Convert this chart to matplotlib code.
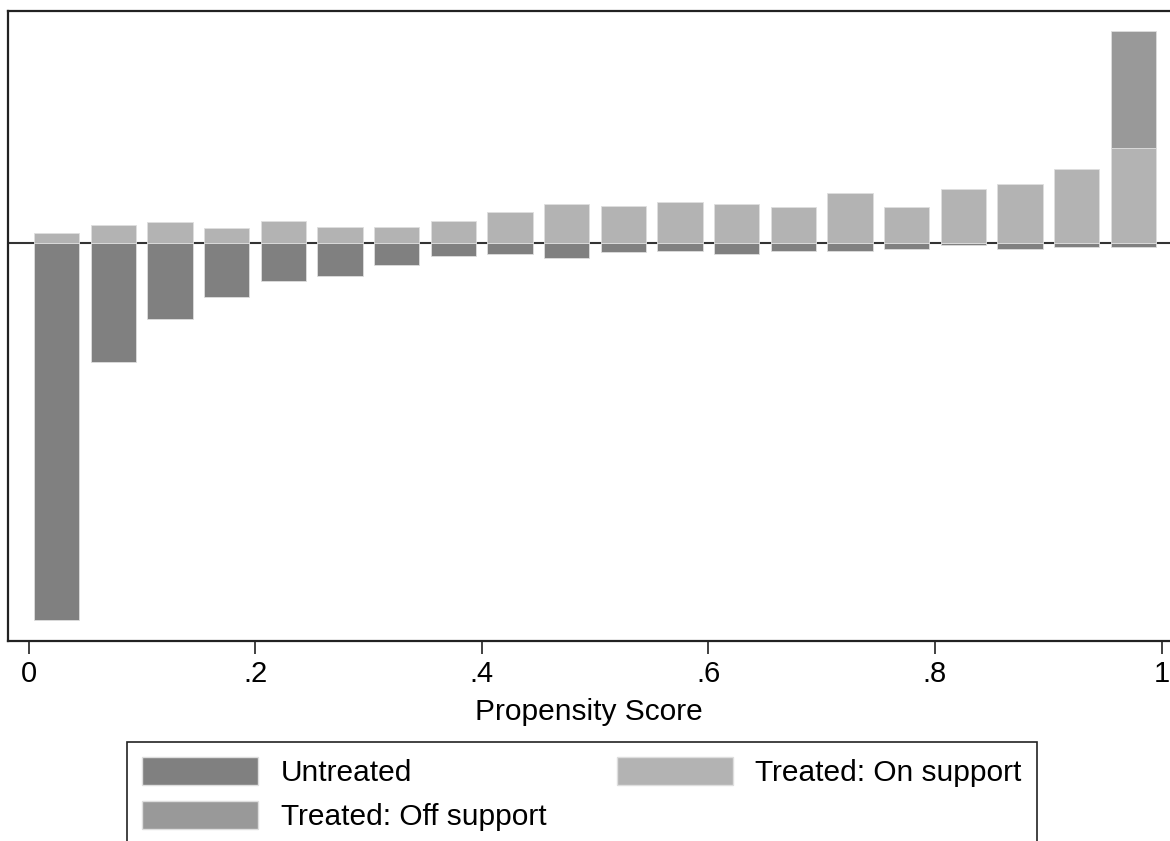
import numpy as np
import matplotlib
matplotlib.use("Agg")
import matplotlib.pyplot as plt
from matplotlib.patches import Patch

plt.rcParams['font.family'] = ['Liberation Sans', 'DejaVu Sans']

# propensity score bins (centres), 20 bins of width .05
bin_centers = [0.025, 0.075, 0.125, 0.175, 0.225, 0.275, 0.325, 0.375, 0.425, 0.475,
               0.525, 0.575, 0.625, 0.675, 0.725, 0.775, 0.825, 0.875, 0.925, 0.975]

# frequencies (arbitrary units)
untreated = [377, 119, 76, 54, 38, 33, 22, 13, 11, 15,
             9, 8, 11, 8, 8, 6, 2, 6, 4, 4]
treated_on = [10, 18, 21, 15, 22, 16, 16, 22, 31, 39,
              37, 41, 39, 36, 50, 36, 54, 59, 74, 95]
treated_off = [0, 0, 0, 0, 0, 0, 0, 0, 0, 0,
               0, 0, 0, 0, 0, 0, 0, 0, 0, 117]

tick_vals = [0, 0.2, 0.4, 0.6, 0.8, 1.0]
tick_labels = ['0', '.2', '.4', '.6', '.8', '1']

c_untr = '#808080'
c_on = '#b3b3b3'
c_off = '#999999'
edge = '#dedede'

fig = plt.figure(figsize=(11.7, 8.41), dpi=100)
ax = fig.add_axes([8 / 1170, 1 - 641 / 841, 1 - 8 / 1170, (641 - 11) / 841])

x = np.array(bin_centers)
w = 0.04
ax.axhline(0, color='#333333', lw=1.5, zorder=1)
ax.bar(x, -np.array(untreated), width=w, color=c_untr, edgecolor=edge, lw=0.6, zorder=2)
ax.bar(x, treated_on, width=w, color=c_on, edgecolor=edge, lw=0.6, zorder=2)
off = np.array(treated_off)
m = off > 0
ax.bar(x[m], off[m], bottom=np.array(treated_on)[m], width=w, color=c_off,
       edgecolor=edge, lw=0.6, zorder=2)

ax.set_xlim(-0.0181, 1.0075)
ax.set_ylim(-398, 232)
ax.set_yticks([])
ax.set_xticks(tick_vals)
ax.set_xticklabels(tick_labels)
ax.tick_params(axis='x', length=9, width=1.3, pad=5, labelsize=21, color='#333333')
for s in ['left', 'top', 'bottom']:
    ax.spines[s].set_linewidth(1.6)
    ax.spines[s].set_color('#222222')
ax.spines['right'].set_visible(False)
ax.set_xlabel('Propensity Score', fontsize=21.5, labelpad=7)

handles = [Patch(facecolor=c_untr, edgecolor=edge, label='Untreated'),
           Patch(facecolor=c_off, edgecolor=edge, label='Treated: Off support'),
           Patch(facecolor=c_on, edgecolor=edge, label='Treated: On support')]
leg = fig.legend(handles=handles, loc='upper left', bbox_to_anchor=(127 / 1170, 1 - 742 / 841),
                 ncol=2, fontsize=21.5, frameon=True, fancybox=False, framealpha=1,
                 handlelength=3.9, handleheight=1.07, handletextpad=0.75,
                 borderpad=0.5, labelspacing=0.45, columnspacing=2.35, borderaxespad=0)
leg.get_frame().set_edgecolor('#222222')
leg.get_frame().set_linewidth(1.2)

fig.savefig('out.png', dpi=100)
